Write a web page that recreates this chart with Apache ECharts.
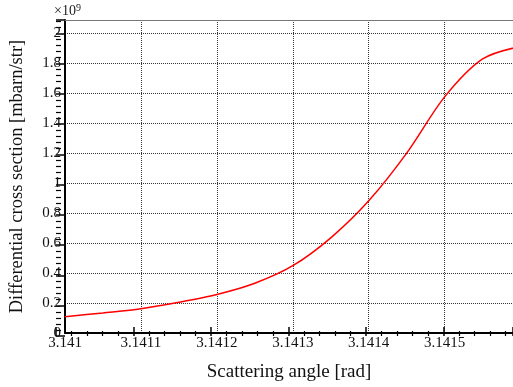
<!DOCTYPE html>
<html>
<head>
<meta charset="utf-8">
<script src="https://cdn.jsdelivr.net/npm/echarts@6/dist/echarts.min.js"></script>
<style>
  html, body { margin: 0; padding: 0; background: #fff; }
  #chart { width: 513px; height: 387px; }
</style>
</head>
<body>
<div id="chart"></div>
<script>
// scattering angle [rad]
const angles = [3.141, 3.14105, 3.1411, 3.14115, 3.1412, 3.14125, 3.1413,
  3.14135, 3.1414, 3.14145, 3.1415, 3.14155, 3.1416];
// differential cross section, in units of 1e9 mbarn/str
const xsec = [0.108, 0.134, 0.162, 0.205, 0.257, 0.332, 0.449,
  0.635, 0.882, 1.200, 1.575, 1.828, 1.912];

const points = angles.map((a, i) => [a, xsec[i]]);
const serif = 'Liberation Serif';

const xMin = 3.141, xMax = 3.14159, xStep = 0.0001;
const yMin = 0, yMax = 2.088, yStep = 0.2;

const chart = echarts.init(document.getElementById('chart'));

const hidden = { show: false };
const majorLine = { show: true, lineStyle: { color: '#000', width: 1.5, type: 'solid' } };
const minorLine = { show: true, lineStyle: { color: '#000', width: 1.2, type: 'solid' } };

// narrow strips along the left and bottom axes; their split lines act as inward ticks
const xTickAxis = (grid, minor) => ({
  gridIndex: grid, type: 'value', min: xMin, max: xMax, interval: xStep,
  axisLine: hidden, axisTick: hidden, axisLabel: hidden,
  minorTick: { show: false, splitNumber: 5 },
  splitLine: minor ? hidden : majorLine,
  minorSplitLine: minor ? minorLine : hidden
});
const yTickAxis = (grid, minor) => ({
  gridIndex: grid, type: 'value', min: yMin, max: yMax, interval: yStep,
  axisLine: hidden, axisTick: hidden, axisLabel: hidden,
  minorTick: { show: false, splitNumber: 5 },
  splitLine: minor ? hidden : majorLine,
  minorSplitLine: minor ? minorLine : hidden
});
const blank = grid => ({ gridIndex: grid, type: 'value', show: false });

const option = {
  animation: false,
  grid: [
    { left: 56, right: 0, top: 20, bottom: 51 },
    { left: 56, width: 9, top: 20, bottom: 51 },
    { left: 56, width: 5, top: 20, bottom: 51 },
    { left: 56, right: 0, height: 9, bottom: 51 },
    { left: 56, right: 0, height: 5, bottom: 51 }
  ],
  xAxis: [{
    type: 'value',
    min: xMin, max: xMax, interval: xStep,
    name: 'Scattering angle [rad]',
    nameLocation: 'middle',
    nameGap: 30,
    nameTextStyle: { fontFamily: serif, fontSize: 19, color: '#111' },
    axisLine: { show: true, onZero: false, lineStyle: { color: '#000', width: 2 } },
    axisTick: hidden,
    axisLabel: {
      fontFamily: serif, fontSize: 15, color: '#111', margin: 3,
      showMaxLabel: false,
      formatter: v => String(parseFloat(v.toFixed(4)))
    },
    splitLine: { show: true, lineStyle: { color: '#333', type: 'dotted', width: 1 } }
  }, {
    // thin frame line along the top
    type: 'value', position: 'top',
    min: xMin, max: xMax,
    axisLine: { show: true, onZero: false, lineStyle: { color: '#777', width: 1 } },
    axisTick: hidden, axisLabel: hidden, splitLine: hidden
  },
    blank(1), blank(2), xTickAxis(3, false), xTickAxis(4, true)
  ],
  yAxis: [{
    type: 'value',
    min: yMin, max: yMax, interval: yStep,
    name: 'Differential cross section [mbarn/str]',
    nameLocation: 'middle',
    nameGap: 38,
    nameTextStyle: { fontFamily: serif, fontSize: 18.5, color: '#111' },
    axisLine: { show: true, onZero: false, lineStyle: { color: '#000', width: 2 } },
    axisTick: hidden,
    axisLabel: {
      fontFamily: serif, fontSize: 15, color: '#111', margin: 4,
      showMaxLabel: false,
      formatter: v => String(parseFloat(v.toFixed(1)))
    },
    splitLine: { show: true, lineStyle: { color: '#333', type: 'dotted', width: 1 } }
  },
    yTickAxis(1, false), yTickAxis(2, true), blank(3), blank(4)
  ],
  graphic: [{
    type: 'text',
    left: 54, top: 3,
    style: {
      text: '×10{s|9}',
      fontFamily: serif, fontSize: 14, fill: '#222',
      rich: { s: { fontFamily: serif, fontSize: 10, fill: '#222', verticalAlign: 'top', padding: [0, 0, 6, 0] } }
    }
  }],
  series: [{
    type: 'line',
    xAxisIndex: 0,
    yAxisIndex: 0,
    data: points,
    smooth: 0.3,
    showSymbol: false,
    lineStyle: { color: '#ff0000', width: 1.5 }
  }]
};

chart.setOption(option);
</script>
</body>
</html>
